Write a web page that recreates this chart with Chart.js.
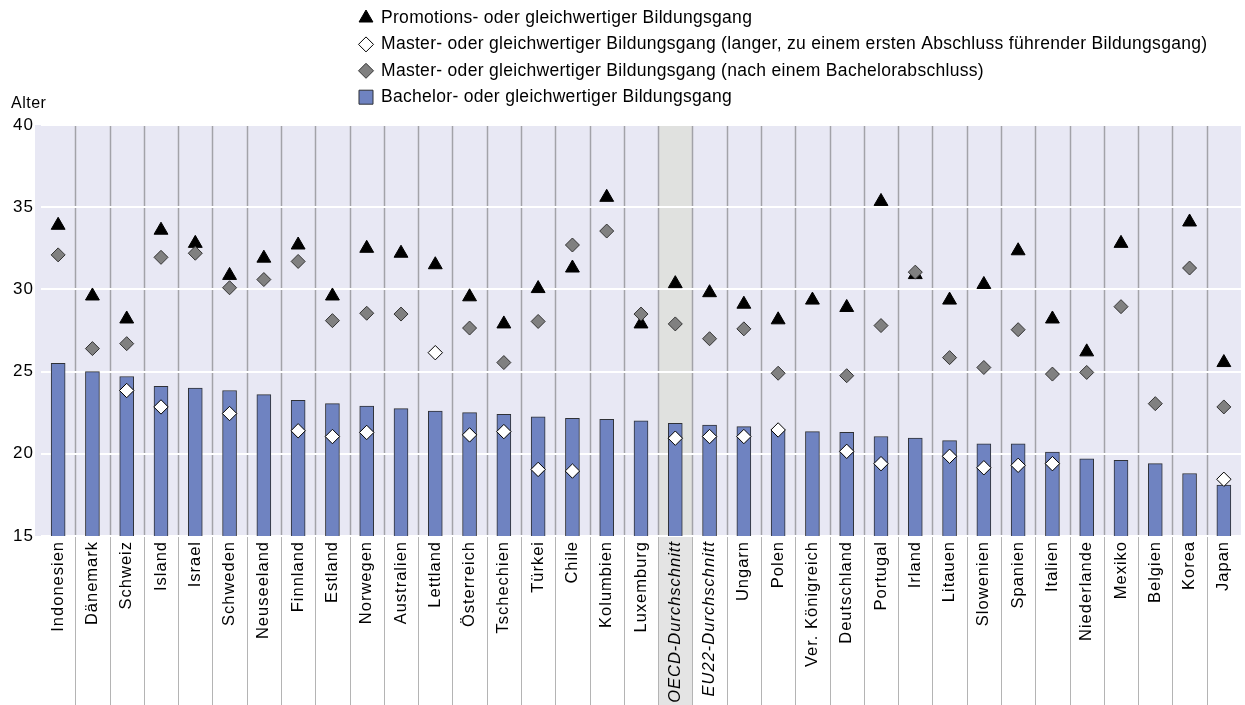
<!DOCTYPE html>
<html lang="de">
<head>
<meta charset="utf-8">
<title>Alter beim Eintritt in den Bildungsgang</title>
<script src="https://cdn.jsdelivr.net/npm/chart.js@4.4.1/dist/chart.umd.min.js"></script>
<style>
  html, body { margin: 0; padding: 0; background: #fff; overflow: hidden; }
  canvas { display: block; }
</style>
</head>
<body>
<canvas id="myChart" width="1250" height="705"></canvas>
<script>
const laender = ['Indonesien', 'Dänemark', 'Schweiz', 'Island', 'Israel', 'Schweden', 'Neuseeland',
  'Finnland', 'Estland', 'Norwegen', 'Australien', 'Lettland', 'Österreich', 'Tschechien', 'Türkei',
  'Chile', 'Kolumbien', 'Luxemburg', 'OECD-Durchschnitt', 'EU22-Durchschnitt', 'Ungarn', 'Polen',
  'Ver. Königreich', 'Deutschland', 'Portugal', 'Irland', 'Litauen', 'Slowenien', 'Spanien',
  'Italien', 'Niederlande', 'Mexiko', 'Belgien', 'Korea', 'Japan'];

const bachelor = [25.5, 25.0, 24.7, 24.1, 24.0, 23.85, 23.6, 23.25, 23.05, 22.9,
  22.75, 22.6, 22.5, 22.4, 22.25, 22.15, 22.1, 22.0, 21.85, 21.75,
  21.65, 21.5, 21.35, 21.3, 21.05, 20.95, 20.8, 20.6, 20.6, 20.1,
  19.7, 19.6, 19.4, 18.8, 18.1];

const masterLang = [null, null, 23.85, 22.85, null, 22.45, null, 21.4, 21.05, 21.3,
  null, 26.15, 21.15, 21.35, 19.05, 18.95, null, null, 20.95, 21.05,
  21.05, 21.45, null, 20.15, 19.4, null, 19.85, 19.15, 19.3, 19.4,
  null, null, null, null, 18.45];

const masterNachBachelor = [32.1, 26.4, 26.7, 31.95, 32.2, 30.1, 30.6, 31.7, 28.1, 28.55,
  28.5, null, 27.65, 25.55, 28.05, 32.7, 33.55, 28.5, 27.9, 27.0,
  27.6, 24.9, null, 24.75, 27.8, 31.05, 25.85, 25.25, 27.55, 24.85,
  24.95, 28.95, 23.05, 31.3, 22.85];

const promotion = [33.9, 29.6, 28.2, 33.6, 32.8, 30.85, 31.9, 32.7, 29.6, 32.5,
  32.2, 31.5, 29.55, 27.9, 30.05, 31.3, 35.6, 27.9, 30.35, 29.8,
  29.1, 28.15, 29.35, 28.9, 35.35, 30.9, 29.35, 30.3, 32.35, 28.2,
  26.2, 32.8, null, 34.1, 25.55];

const yTicks = [15, 20, 25, 30, 35, 40];

const schrift = "'Liberation Sans', Arial, sans-serif";
const hervorgehoben = laender.indexOf('OECD-Durchschnitt');

// Hintergrund, graue OECD-Spalte und Trennlinien zwischen den Ländern
const hintergrund = {
  id: 'hintergrund',
  beforeUpdate(chart) {
    chart.ctx.letterSpacing = '1px';
  },
  beforeDraw(chart) {
    const {ctx, chartArea: a, scales: {x}} = chart;
    const halb = (x.getPixelForValue(1) - x.getPixelForValue(0)) / 2;
    ctx.save();
    ctx.fillStyle = '#e8e8f4';
    ctx.fillRect(a.left - 6, a.top, a.right - a.left + 6, a.bottom - a.top);

    const cx = x.getPixelForValue(hervorgehoben);
    ctx.fillStyle = '#e0e1df';
    ctx.fillRect(cx - halb, a.top, 2 * halb, a.bottom - a.top);
    ctx.fillStyle = '#e4e4e4';
    ctx.fillRect(cx - halb, a.bottom, 2 * halb, chart.height - a.bottom);

    for (let k = 1; k < laender.length; k++) {
      const px = Math.round(x.getPixelForValue(k) - halb) + 0.5;
      ctx.strokeStyle = '#a2a2a8';
      ctx.lineWidth = 1.5;
      ctx.beginPath();
      ctx.moveTo(px, a.top);
      ctx.lineTo(px, a.bottom);
      ctx.stroke();
      ctx.strokeStyle = '#b4b4b4';
      ctx.lineWidth = 1;
      ctx.beginPath();
      ctx.moveTo(px, a.bottom);
      ctx.lineTo(px, chart.height);
      ctx.stroke();
    }
    ctx.restore();
  }
};

// Legende oben, senkrecht gestapelt, und Achsentitel "Alter"
const legende = {
  id: 'legende',
  afterDraw(chart) {
    const {ctx, scales: {y}} = chart;
    ctx.save();
    ctx.textBaseline = 'middle';
    ctx.textAlign = 'left';
    ctx.letterSpacing = '0.3px';
    ctx.font = '17.5px ' + schrift;
    chart.data.datasets.forEach((ds, row) => {
      const yy = 18 + row * 26.4;
      ctx.fillStyle = ds.backgroundColor;
      ctx.strokeStyle = ds.borderColor;
      ctx.lineWidth = 1;
      Chart.helpers.drawPoint(ctx, {
        pointStyle: ds.legendStyle,
        radius: ds.legendRadius,
        rotation: 0,
        borderWidth: 1
      }, 366, yy);
      ctx.fillStyle = '#000';
      ctx.fillText(ds.label, 381, yy);
    });
    ctx.font = '16px ' + schrift;
    ctx.letterSpacing = '0.5px';
    ctx.fillText('Alter', 11, y.getPixelForValue(yTicks[yTicks.length - 1]) - 21);
    ctx.restore();
  }
};

const ctx = document.getElementById('myChart');

new Chart(ctx, {
  type: 'bar',
  data: {
    labels: laender,
    datasets: [{
      type: 'line',
      label: 'Promotions- oder gleichwertiger Bildungsgang',
      data: promotion,
      showLine: false,
      pointStyle: 'triangle',
      pointRadius: 8,
      pointBorderWidth: 1,
      backgroundColor: '#000',
      borderColor: '#000',
      pointBackgroundColor: '#000',
      pointBorderColor: '#000',
      legendStyle: 'triangle',
      legendRadius: 8,
      order: 3,
    }, {
      type: 'line',
      label: 'Master- oder gleichwertiger Bildungsgang (langer, zu einem ersten Abschluss führender Bildungsgang)',
      data: masterLang,
      showLine: false,
      pointStyle: 'rectRot',
      pointRadius: 7.2,
      pointBorderWidth: 1,
      backgroundColor: '#fff',
      borderColor: '#000',
      pointBackgroundColor: '#fff',
      pointBorderColor: '#000',
      legendStyle: 'rectRot',
      legendRadius: 7.5,
      order: 1,
    }, {
      type: 'line',
      label: 'Master- oder gleichwertiger Bildungsgang (nach einem Bachelorabschluss)',
      data: masterNachBachelor,
      showLine: false,
      pointStyle: 'rectRot',
      pointRadius: 7,
      pointBorderWidth: 1,
      backgroundColor: '#808080',
      borderColor: '#333',
      pointBackgroundColor: '#808080',
      pointBorderColor: '#333',
      legendStyle: 'rectRot',
      legendRadius: 7.5,
      order: 2,
    }, {
      label: 'Bachelor- oder gleichwertiger Bildungsgang',
      data: bachelor,
      backgroundColor: '#6f83c1',
      borderColor: '#2f3136',
      borderWidth: 1,
      barThickness: 14,
      legendStyle: 'rect',
      legendRadius: 9.9,
      order: 4,
    }],
  },
  options: {
    responsive: false,
    animation: false,
    devicePixelRatio: 1,
    events: [],
    layout: {
      padding: {top: 125, right: 2.5, bottom: 0, left: 0}
    },
    plugins: {
      legend: {display: false},
      tooltip: {enabled: false},
    },
    scales: {
      x: {
        grid: {display: false, drawTicks: false},
        border: {display: false},
        ticks: {
          autoSkip: false,
          minRotation: 90,
          maxRotation: 90,
          padding: 5,
          color: '#000',
          font: (c) => ({
            family: schrift,
            size: 16.5,
            style: laender[c.index] && laender[c.index].includes('Durchschnitt') ? 'italic' : 'normal'
          }),
        },
        afterFit: (s) => { s.height = 169; },
      },
      y: {
        min: yTicks[0],
        max: yTicks[yTicks.length - 1],
        afterBuildTicks: (s) => { s.ticks = yTicks.map(value => ({value})); },
        ticks: {
          color: '#000',
          padding: 7,
          font: {family: schrift, size: 17},
        },
        grid: {color: '#fff', lineWidth: 2, drawTicks: false},
        border: {display: false},
        afterFit: (s) => { s.width = 41; },
      }
    }
  },
  plugins: [hintergrund, legende],
});
</script>
</body>
</html>
